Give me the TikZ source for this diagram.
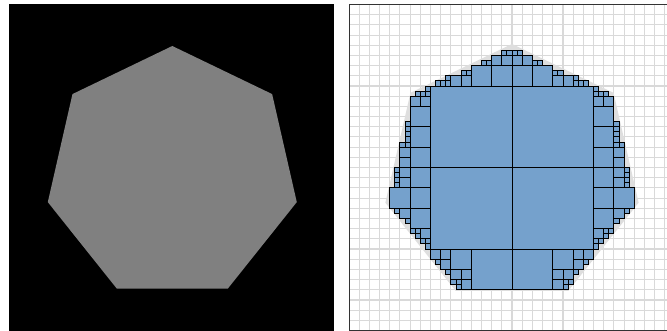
\documentclass[tikz,border=0pt]{standalone}
\usepackage{tikz}
\usetikzlibrary{calc}
\definecolor{quadBlue}{RGB}{117,161,204}
\colorlet{gridGray}{black!15}
\colorlet{haloGray}{black!13}
\colorlet{shapeGray}{black!50}
\tikzstyle{cell}=[fill=quadBlue, draw=black, line width=0.9pt]
\tikzstyle{gridline}=[gridGray, line width=1.1pt]

% heptagon in quadtree units: centre (32,33.24), apothem 22.524
\newcommand\hthr{22.32}
\newcommand\heptmax[4]{%
  \pgfmathsetmacro\hpx{#1-32}%
  \pgfmathsetmacro\hpy{#2-33.24}%
  \pgfmathsetmacro\hpm{max(-0.43388*(\hpx)-0.90097*(\hpy)#4#3*1.33485,
    -0.97493*(\hpx)-0.22252*(\hpy)#4#3*1.19745,
    -0.78183*(\hpx)+0.62349*(\hpy)#4#3*1.40532,
    (\hpy)#4#3,
    0.78183*(\hpx)+0.62349*(\hpy)#4#3*1.40532,
    0.97493*(\hpx)-0.22252*(\hpy)#4#3*1.19745,
    0.43388*(\hpx)-0.90097*(\hpy)#4#3*1.33485)}}

% one quadtree cell: x0, y0, size
\newcommand\quadcell[3]{%
  \begingroup
  \pgfmathsetmacro\qmx{#1+#3/2}%
  \pgfmathsetmacro\qmy{#2+#3/2}%
  \pgfmathsetmacro\qh{(#3-1)/2}%
  \heptmax{\qmx}{\qmy}{\qh}{+}\let\qin\hpm
  \heptmax{\qmx}{\qmy}{\qh}{-}\let\qout\hpm
  \ifdim\qin pt<\hthr pt
    \draw[cell] (#1,#2) rectangle ++(#3,#3);
  \else\ifdim\qout pt>\hthr pt
  \else\ifnum#3>1
    \pgfmathtruncatemacro\qn{#3/2}%
    \pgfmathtruncatemacro\qxr{#1+\qn}%
    \pgfmathtruncatemacro\qyb{#2+\qn}%
    \edef\qdo{\noexpand\quadcell{#1}{#2}{\qn}\noexpand\quadcell{\qxr}{#2}{\qn}%
      \noexpand\quadcell{#1}{\qyb}{\qn}\noexpand\quadcell{\qxr}{\qyb}{\qn}}%
    \qdo
  \fi\fi\fi
  \endgroup}

\begin{document}
\begin{tikzpicture}[x=1pt, y=-1pt]
	\useasboundingbox (0,0) rectangle (667,331);

	% Input image
	\fill[black] (8.5,4) rectangle (333.5,330.5);
	\fill[shapeGray] (172.3,173.7) ++(-90:127.7)
		\foreach \k in {1,...,6}{ -- ($(172.3,173.7)+(-90+\k*360/7:127.7)$) } -- cycle;

	% Quadtree of the heptagon
	\begin{scope}[shift={(349,4.5)}, x=5.094pt, y=-5.094pt]
		\foreach \k in {1,...,31}{ \draw[gridline] (2*\k,0) -- (2*\k,64); \draw[gridline] (0,2*\k) -- (64,2*\k); }
		\fill[haloGray] (32,33.24) ++(-90:25.5)
			\foreach \k in {1,...,6}{ -- ($(32,33.24)+(-90+\k*360/7:25.5)$) } -- cycle;
		\quadcell{0}{0}{64}
		\draw[black!80, line width=1pt] (0,0) rectangle (64,64);
	\end{scope}
\end{tikzpicture}
\end{document}
